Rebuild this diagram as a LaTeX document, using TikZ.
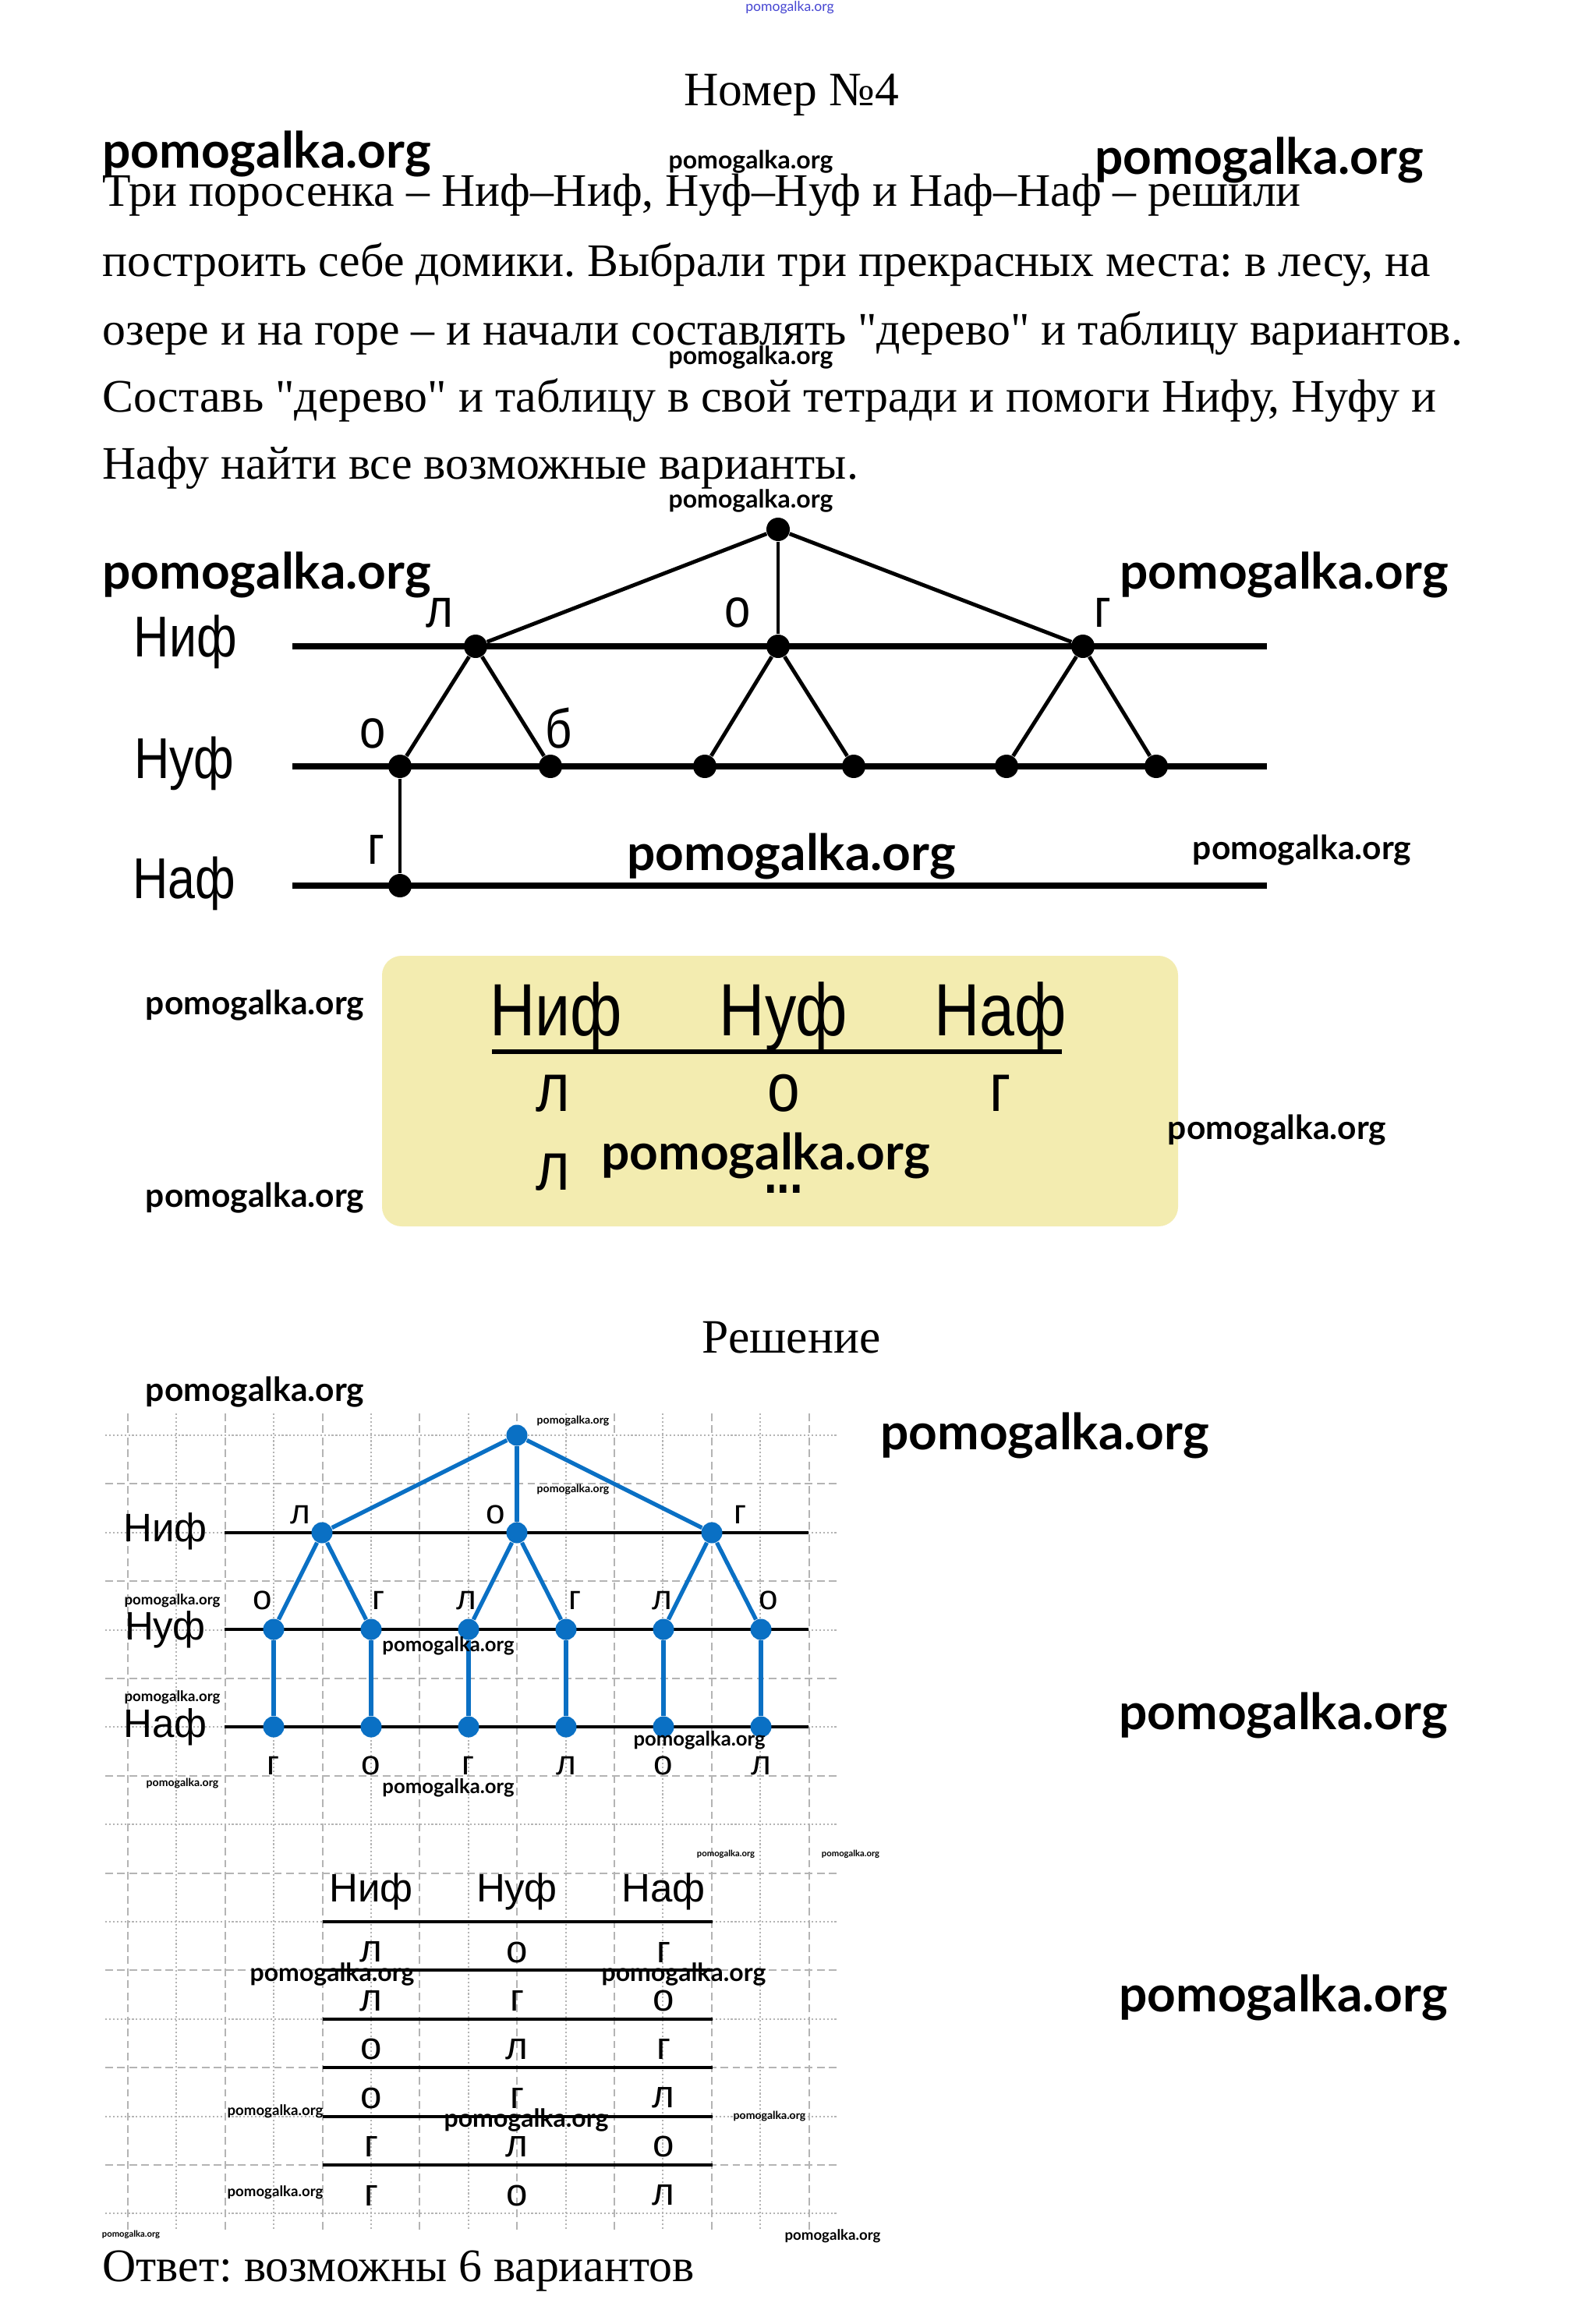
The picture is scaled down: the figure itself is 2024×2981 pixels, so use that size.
\documentclass[tikz,border=0pt]{standalone}
\usepackage{fontspec}
\setmainfont{Liberation Serif}
\newfontfamily\bodyfont{Liberation Serif}
\newfontfamily\wmfont{Lato}
\newfontfamily\bookfont[FakeStretch=0.85]{Liberation Sans}
\newfontfamily\gridfont{Liberation Sans}

\definecolor{treeblue}{RGB}{10,112,196}
\definecolor{bookyellow}{RGB}{243,236,176}
\definecolor{gridgray}{RGB}{180,180,180}
\definecolor{linkblue}{RGB}{70,70,210}

\begin{document}
\begin{tikzpicture}[
    x=0.01cm, y=-0.01cm,
    wmark/.style={inner sep=0pt, text=black},
    bodytext/.style={anchor=west, inner sep=0pt, font=\bodyfont\frenchspacing\fontsize{17}{20}\selectfont},
    heading/.style={inner sep=0pt, font=\bodyfont\fontsize{17.5}{20}\selectfont},
    blackdot/.style={circle, fill=black, inner sep=0pt, minimum size=0.3cm},
    bluedot/.style={circle, fill=treeblue, inner sep=0pt, minimum size=0.27cm},
    booklabel/.style={inner sep=0pt, font=\bookfont\fontsize{21}{24}\selectfont},
    bookletter/.style={inner sep=0pt, font=\bookfont\fontsize{20}{24}\selectfont},
    tablehead/.style={inner sep=0pt, anchor=base, font=\bookfont\fontsize{27}{30}\selectfont},
    tableletter/.style={inner sep=0pt, anchor=base, font=\bookfont\fontsize{25}{28}\selectfont},
    gridlabel/.style={inner sep=0pt, font=\gridfont\fontsize{14.5}{16}\selectfont},
    gridletter/.style={inner sep=0pt, font=\gridfont\fontsize{12.5}{14}\selectfont},
    levelthick/.style={line width=2.3pt},
    branch/.style={line width=1.4pt},
    blueedge/.style={treeblue, line width=1.5pt},
    levelthin/.style={line width=1.1pt},
    dashedgrid/.style={gridgray, line width=0.6pt, dash pattern=on 2.8pt off 1.6pt},
    dottedgrid/.style={gridgray, line width=0.6pt, dash pattern=on 0.6pt off 0.8pt},
]

    \path[fill=white] (0,0) rectangle (2024,2981);
    \useasboundingbox (0,0) rectangle (2024,2981);

    % task text
    \node[wmark, text=linkblue, font=\wmfont\fontsize{5}{5}\selectfont] (wmtop) at (1013,10) {pomogalka.org};
    \node[heading] (title) at (1015,122) {Номер №4};
    \node[bodytext] (line1) at (131,250) {Три поросенка – Ниф–Ниф, Нуф–Нуф и Наф–Наф – решили};
    \node[bodytext] (line2) at (131,340) {построить себе домики. Выбрали три прекрасных места: в лесу, на};
    \node[bodytext] (line3) at (131,428) {озере и на горе – и начали составлять "дерево" и таблицу вариантов.};
    \node[bodytext] (line4) at (131,514) {Составь "дерево" и таблицу в свой тетради и помоги Нифу, Нуфу и};
    \node[bodytext] (line5) at (131,600) {Нафу найти все возможные варианты.};

    % book tree
    \coordinate (nifA) at (375,829);  \coordinate (nifB) at (1625,829);
    \coordinate (nufA) at (375,983);  \coordinate (nufB) at (1625,983);
    \coordinate (nafA) at (375,1136); \coordinate (nafB) at (1625,1136);
    \draw[levelthick] (nifA) -- (nifB);
    \draw[levelthick] (nufA) -- (nufB);
    \draw[levelthick] (nafA) -- (nafB);

    \node[blackdot] (root1) at (998,679) {};
    \node[blackdot] (l1) at (610,829) {};
    \node[blackdot] (o1) at (998,829) {};
    \node[blackdot] (g1) at (1389,829) {};
    \foreach \x [count=\i] in {513,706,904,1095,1291,1483}
        \node[blackdot] (a\i) at (\x,983) {};
    \node[blackdot] (b1) at (513,1136) {};

    \path[branch]
        (root1) edge (l1)
        (root1) edge (g1)
        (root1) edge [line width=1.1pt] (o1)
        (l1) edge (a1)  (l1) edge (a2)
        (o1) edge (a3)  (o1) edge (a4)
        (g1) edge (a5)  (g1) edge (a6)
        (a1) edge [line width=0.9pt] (b1)
    ;

    \node[booklabel] (nif1) at (238,823) {Ниф};
    \node[booklabel] (nuf1) at (236,979) {Нуф};
    \node[booklabel] (naf1) at (236,1133) {Наф};
    \node[bookletter] (tl1) at (564,786) {л};
    \node[bookletter] (to1) at (946,786) {о};
    \node[bookletter] (tg1) at (1414,786) {г};
    \node[bookletter] (to2) at (478,941) {о};
    \node[bookletter] (tb2) at (717,934) {б};
    \node[bookletter] (tg3) at (482,1090) {г};

    % book table
    \path[fill=bookyellow, rounded corners=0.25cm] (490,1226) rectangle (1511,1573);
    \node[tablehead] (hnif) at (713,1328) {Ниф};
    \node[tablehead] (hnuf) at (1005,1328) {Нуф};
    \node[tablehead] (hnaf) at (1283,1328) {Наф};
    \coordinate (ulA) at (631,1349); \coordinate (ulB) at (1362,1349);
    \draw[line width=1.8pt] (ulA) -- (ulB);
    \node[tableletter] (r1a) at (709,1425) {л};
    \node[tableletter] (r1b) at (1005,1425) {о};
    \node[tableletter] (r1c) at (1283,1425) {г};
    \node[tableletter] (r2a) at (709,1526) {л};
    \node[tableletter, font=\bookfont\bfseries\fontsize{20}{24}\selectfont] (r2b) at (1005,1530) {...};

    \node[heading] (solution) at (1015,1716) {Решение};

    % squared paper
    \foreach \k in {0,2,...,14}
        \draw[dashedgrid] ({164+62.4*\k},1813) -- ({164+62.4*\k},2860);
    \foreach \k in {1,3,...,13}
        \draw[dottedgrid] ({164+62.4*\k},1813) -- ({164+62.4*\k},2860);
    \foreach \k in {0,2,...,16}
        \draw[dottedgrid] (135,{1841+62.4*\k}) -- (1073,{1841+62.4*\k});
    \foreach \k in {1,3,...,15}
        \draw[dashedgrid] (135,{1841+62.4*\k}) -- (1073,{1841+62.4*\k});

    % solution tree
    \coordinate (nifC) at (288,1966); \coordinate (nifD) at (1037,1966);
    \coordinate (nufC) at (288,2090); \coordinate (nufD) at (1037,2090);
    \coordinate (nafC) at (288,2215); \coordinate (nafD) at (1037,2215);
    \draw[levelthin] (nifC) -- (nifD);
    \draw[levelthin] (nufC) -- (nufD);
    \draw[levelthin] (nafC) -- (nafD);

    \node[bluedot] (root2) at (663,1841) {};
    \node[bluedot] (n1) at (413,1966) {};
    \node[bluedot] (n2) at (663,1966) {};
    \node[bluedot] (n3) at (913,1966) {};
    \foreach \x [count=\i] in {351,476,601,726,851,976} {
        \node[bluedot] (u\i) at (\x,2090) {};
        \node[bluedot] (f\i) at (\x,2215) {};
    }

    \path[blueedge]
        (root2) edge (n1)  (root2) edge (n2)  (root2) edge (n3)
        (n1) edge (u1)  (n1) edge (u2)
        (n2) edge (u3)  (n2) edge (u4)
        (n3) edge (u5)  (n3) edge (u6)
        (u1) edge (f1)  (u2) edge (f2)  (u3) edge (f3)
        (u4) edge (f4)  (u5) edge (f5)  (u6) edge (f6)
    ;

    \node[gridlabel] (nif2) at (212,1964) {Ниф};
    \node[gridlabel] (nuf2) at (212,2090) {Нуф};
    \node[gridlabel] (naf2) at (212,2215) {Наф};
    \foreach \x/\c [count=\i] in {385/л, 636/о, 950/г}
        \node[gridletter] (p\i) at (\x,1943) {\c};
    \foreach \x/\c [count=\i] in {337/о, 486/г, 598/л, 738/г, 849/л, 986/о}
        \node[gridletter] (q\i) at (\x,2053) {\c};
    \foreach \x/\c [count=\i] in {351/г, 476/о, 601/г, 726/л, 851/о, 976/л}
        \node[gridletter] (s\i) at (\x,2265) {\c};

    % solution table
    \node[gridlabel] (tnif) at (476,2426) {Ниф};
    \node[gridlabel] (tnuf) at (663,2426) {Нуф};
    \node[gridlabel] (tnaf) at (851,2426) {Наф};
    \foreach \k in {0,...,5} {
        \coordinate (rowA\k) at (414,{2465+62.4*\k});
        \coordinate (rowB\k) at (914,{2465+62.4*\k});
        \draw[levelthin] (rowA\k) -- (rowB\k);
    }
    \foreach \a/\b/\c [count=\r] in {л/о/г, л/г/о, о/л/г, о/г/л, г/л/о, г/о/л} {
        \node[gridletter, font=\gridfont\fontsize{14}{16}\selectfont] (ta\r) at (476,{2504+62.4*(\r-1)}) {\a};
        \node[gridletter, font=\gridfont\fontsize{14}{16}\selectfont] (tb\r) at (663,{2504+62.4*(\r-1)}) {\b};
        \node[gridletter, font=\gridfont\fontsize{14}{16}\selectfont] (tc\r) at (851,{2504+62.4*(\r-1)}) {\c};
    }

    \node[bodytext] (answer) at (131,2913) {Ответ: возможны 6 вариантов};

    % site marks
    \foreach \x/\y/\s [count=\i] in {
        342/197/18.2, 963/207/9.1, 1615/205/18.2, 963/458/9.1, 963/642/9.1,
        342/737/18.2, 1647/737/18.2, 1015/1098/18.2, 1670/1091/12.1,
        327/1290/12.1, 327/1537/12.1, 1638/1450/12.1, 982/1482/18.2,
        327/1786/12.1, 1340/1841/18.2, 735/1823/4, 735/1911/4,
        221/2053/5.3, 221/2177/5.3, 234/2288/4, 575/2111/7.3, 897/2232/7.3,
        575/2293/7.3, 1646/2200/18.2, 931/2378/3.2, 1091/2378/3.2,
        426/2532/9.1, 877/2532/9.1, 353/2708/5.3, 675/2719/9.1, 987/2715/4,
        353/2812/5.3, 168/2866/3.2, 1068/2868/5.3, 1646/2562/18.2}
        \node[wmark, font=\wmfont\bfseries\fontsize{\s}{\s}\selectfont] (wm\i) at (\x,\y) {pomogalka.org};

\end{tikzpicture}
\end{document}
